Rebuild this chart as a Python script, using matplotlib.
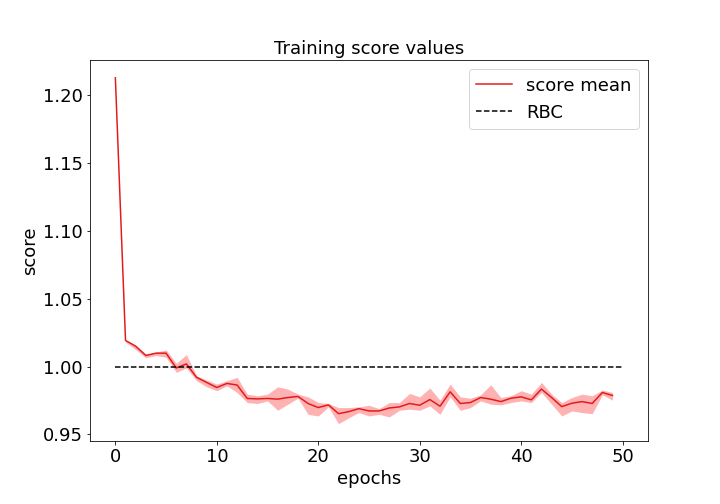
import matplotlib
matplotlib.use("Agg")
import matplotlib.pyplot as plt
import numpy as np

epochs = list(range(50))
score_mean = [1.2130, 1.0193, 1.0151, 1.0082, 1.0099, 1.0099, 0.9990, 1.0020, 0.9921, 0.9883,
              0.9846, 0.9876, 0.9864, 0.9765, 0.9762, 0.9765, 0.9760, 0.9772, 0.9780, 0.9728,
              0.9698, 0.9718, 0.9653, 0.9668, 0.9690, 0.9673, 0.9673, 0.9695, 0.9703, 0.9728,
              0.9715, 0.9757, 0.9708, 0.9814, 0.9728, 0.9735, 0.9772, 0.9760, 0.9742, 0.9767,
              0.9777, 0.9755, 0.9834, 0.9772, 0.9705, 0.9730, 0.9742, 0.9728, 0.9809, 0.9787]
score_upper = [1.2130, 1.0193, 1.0156, 1.0094, 1.0106, 1.0124, 1.0025, 1.0089, 0.9933, 0.9901,
               0.9871, 0.9896, 0.9921, 0.9797, 0.9785, 0.9797, 0.9851, 0.9834, 0.9797, 0.9777,
               0.9735, 0.9728, 0.9698, 0.9698, 0.9703, 0.9715, 0.9690, 0.9735, 0.9735, 0.9802,
               0.9777, 0.9842, 0.9752, 0.9871, 0.9777, 0.9767, 0.9792, 0.9866, 0.9772, 0.9785,
               0.9822, 0.9797, 0.9883, 0.9797, 0.9735, 0.9772, 0.9797, 0.9785, 0.9827, 0.9809]
score_lower = [1.2130, 1.0181, 1.0126, 1.0065, 1.0082, 1.0069, 0.9958, 0.9990, 0.9896, 0.9851,
               0.9822, 0.9859, 0.9809, 0.9735, 0.9728, 0.9747, 0.9678, 0.9723, 0.9767, 0.9648,
               0.9636, 0.9703, 0.9579, 0.9623, 0.9661, 0.9636, 0.9648, 0.9629, 0.9678, 0.9686,
               0.9678, 0.9710, 0.9648, 0.9777, 0.9678, 0.9698, 0.9747, 0.9723, 0.9718, 0.9735,
               0.9747, 0.9735, 0.9809, 0.9723, 0.9636, 0.9673, 0.9661, 0.9653, 0.9792, 0.9752]
rbc_x = [0, 50]
rbc_y = [1.0, 1.0]

fig, ax = plt.subplots(figsize=(10, 7), dpi=72)
fig.subplots_adjust(left=0.125, right=0.9, top=0.88, bottom=0.125)
ax.fill_between(epochs, score_lower, score_upper, color="red", alpha=0.3, linewidth=0)
ax.plot(epochs, score_mean, color="#e31a1c", linewidth=1.5, label="score mean")
ax.plot(rbc_x, rbc_y, "k--", linewidth=1.5, label="RBC")
ax.set_title("Training score values", fontsize=18)
ax.set_xlabel("epochs", fontsize=18)
ax.set_ylabel("score", fontsize=18)
ax.tick_params(labelsize=18)
ax.legend(fontsize=18, loc="upper right")
fig.savefig("out.png", dpi=72)
